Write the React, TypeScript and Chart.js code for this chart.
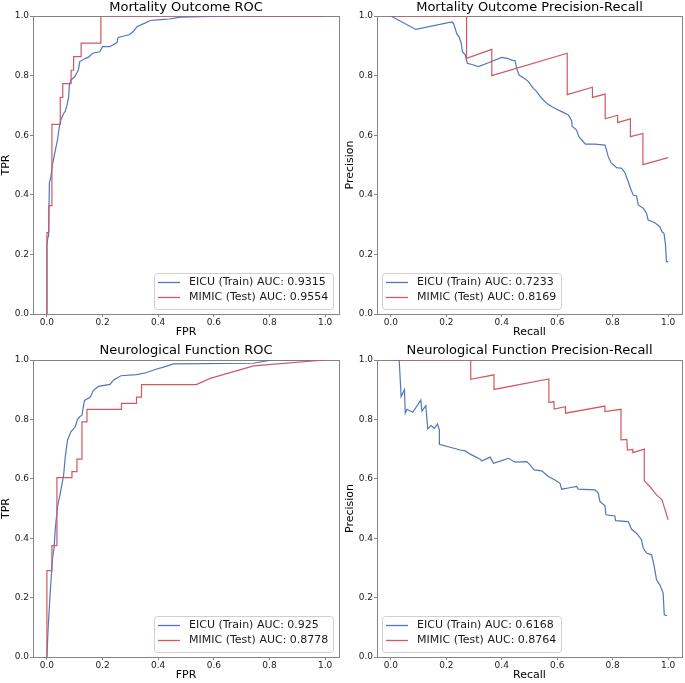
import React, { useEffect, useRef } from 'react';
import { Chart, registerables } from 'chart.js';

Chart.register(...registerables);

const FONT = "'DejaVu Sans', 'Liberation Sans', sans-serif";
const BLUE = '#5275bf';
const RED = '#cf5a5f';
const SPINE = '#858585';
const TEXT = '#1a1a1a';

const TICKS = [0, 0.2, 0.4, 0.6, 0.8, 1.0];
const SERIES_NAMES = ['EICU (Train)', 'MIMIC (Test)'];

// ---------- Mortality Outcome ROC ----------
const mortRocEicuFpr = [0, 0, 0.004, 0.006, 0.009, 0.014, 0.02, 0.026, 0.038, 0.045, 0.05, 0.06, 0.066, 0.072, 0.078, 0.081, 0.086, 0.1, 0.113, 0.118, 0.139, 0.15, 0.164, 0.19, 0.2, 0.226, 0.252, 0.256, 0.296, 0.31, 0.325, 0.352, 0.372, 0.41, 0.44, 0.48, 0.55, 0.68, 1.0];
const mortRocEicuTpr = [0, 0.23, 0.26, 0.28, 0.44, 0.46, 0.5, 0.53, 0.584, 0.63, 0.651, 0.673, 0.68, 0.7, 0.727, 0.77, 0.785, 0.796, 0.819, 0.847, 0.858, 0.862, 0.875, 0.88, 0.897, 0.897, 0.911, 0.928, 0.937, 0.948, 0.965, 0.976, 0.985, 0.988, 0.99, 0.996, 0.998, 1.0, 1.0];
const mortRocMimicFpr = [0, 0, 0.007, 0.007, 0.018, 0.018, 0.048, 0.048, 0.057, 0.057, 0.087, 0.087, 0.096, 0.096, 0.123, 0.123, 0.194, 0.194, 1.0];
const mortRocMimicTpr = [0, 0.273, 0.273, 0.364, 0.364, 0.636, 0.636, 0.727, 0.727, 0.773, 0.773, 0.818, 0.818, 0.864, 0.864, 0.909, 0.909, 1.0, 1.0];
const mortRocAuc = ['0.9315', '0.9554'];

// ---------- Mortality Outcome Precision-Recall ----------
const mortPrEicuRecall = [0, 0.09, 0.22, 0.226, 0.238, 0.246, 0.254, 0.258, 0.268, 0.276, 0.286, 0.316, 0.352, 0.4, 0.42, 0.436, 0.448, 0.454, 0.462, 0.481, 0.496, 0.514, 0.526, 0.544, 0.562, 0.58, 0.598, 0.616, 0.64, 0.652, 0.654, 0.67, 0.678, 0.694, 0.702, 0.736, 0.772, 0.778, 0.784, 0.794, 0.814, 0.832, 0.844, 0.856, 0.866, 0.874, 0.886, 0.892, 0.91, 0.922, 0.928, 0.952, 0.97, 0.978, 0.985, 0.99, 0.994, 1.0];
const mortPrEicuPrecision = [1.0, 0.955, 0.98, 0.975, 0.94, 0.93, 0.908, 0.88, 0.87, 0.841, 0.839, 0.83, 0.843, 0.861, 0.858, 0.852, 0.85, 0.824, 0.802, 0.791, 0.78, 0.757, 0.746, 0.724, 0.707, 0.696, 0.687, 0.679, 0.668, 0.649, 0.629, 0.617, 0.595, 0.578, 0.57, 0.57, 0.567, 0.55, 0.528, 0.508, 0.491, 0.489, 0.475, 0.444, 0.418, 0.399, 0.396, 0.366, 0.355, 0.338, 0.315, 0.306, 0.293, 0.276, 0.271, 0.237, 0.176, 0.176];
const mortPrMimicRecall = [0, 0.273, 0.273, 0.364, 0.364, 0.636, 0.636, 0.727, 0.727, 0.773, 0.773, 0.818, 0.818, 0.864, 0.864, 0.909, 0.909, 1.0];
const mortPrMimicPrecision = [1.0, 1.0, 0.858, 0.888, 0.8, 0.875, 0.736, 0.761, 0.727, 0.738, 0.655, 0.667, 0.642, 0.655, 0.595, 0.606, 0.501, 0.525];
const mortPrAuc = ['0.7233', '0.8169'];

// ---------- Neurological Function ROC ----------
const neuroRocEicuFpr = [0, 0.004, 0.012, 0.02, 0.026, 0.03, 0.038, 0.048, 0.06, 0.066, 0.074, 0.086, 0.102, 0.11, 0.117, 0.126, 0.135, 0.156, 0.167, 0.185, 0.227, 0.239, 0.266, 0.323, 0.359, 0.389, 0.419, 0.455, 0.742, 0.808, 1.0];
const neuroRocEicuTpr = [0, 0.09, 0.22, 0.33, 0.37, 0.43, 0.506, 0.551, 0.612, 0.674, 0.73, 0.758, 0.775, 0.8, 0.808, 0.814, 0.864, 0.875, 0.898, 0.911, 0.918, 0.932, 0.947, 0.951, 0.958, 0.968, 0.976, 0.987, 0.989, 1.0, 1.0];
const neuroRocMimicFpr = [0, 0, 0.018, 0.018, 0.036, 0.036, 0.09, 0.09, 0.108, 0.108, 0.126, 0.126, 0.144, 0.144, 0.268, 0.268, 0.322, 0.322, 0.34, 0.34, 0.537, 0.587, 0.743, 1.0];
const neuroRocMimicTpr = [0, 0.291, 0.291, 0.375, 0.375, 0.604, 0.604, 0.624, 0.624, 0.666, 0.666, 0.792, 0.792, 0.834, 0.834, 0.854, 0.854, 0.875, 0.875, 0.917, 0.917, 0.938, 0.98, 1.0];
const neuroRocAuc = ['0.925', '0.8778'];

// ---------- Neurological Function Precision-Recall ----------
const neuroPrEicuRecall = [0, 0.03, 0.037, 0.049, 0.052, 0.058, 0.079, 0.108, 0.112, 0.126, 0.133, 0.145, 0.157, 0.168, 0.175, 0.175, 0.25, 0.268, 0.286, 0.322, 0.328, 0.358, 0.37, 0.4, 0.424, 0.448, 0.49, 0.502, 0.517, 0.544, 0.568, 0.592, 0.61, 0.616, 0.64, 0.67, 0.676, 0.736, 0.748, 0.754, 0.772, 0.776, 0.808, 0.81, 0.856, 0.868, 0.886, 0.904, 0.91, 0.922, 0.94, 0.946, 0.954, 0.958, 0.97, 0.982, 0.986, 0.996];
const neuroPrEicuPrecision = [1.0, 1.0, 0.877, 0.9, 0.821, 0.834, 0.824, 0.865, 0.828, 0.846, 0.768, 0.779, 0.77, 0.784, 0.765, 0.716, 0.697, 0.694, 0.683, 0.666, 0.66, 0.673, 0.652, 0.661, 0.669, 0.656, 0.658, 0.647, 0.63, 0.627, 0.608, 0.596, 0.585, 0.565, 0.569, 0.574, 0.565, 0.563, 0.552, 0.524, 0.509, 0.479, 0.475, 0.459, 0.456, 0.43, 0.417, 0.395, 0.367, 0.35, 0.344, 0.322, 0.283, 0.26, 0.243, 0.215, 0.142, 0.139];
const neuroPrMimicRecall = [0, 0.288, 0.288, 0.372, 0.372, 0.57, 0.57, 0.588, 0.589, 0.629, 0.63, 0.772, 0.772, 0.83, 0.83, 0.851, 0.853, 0.872, 0.873, 0.914, 0.914, 0.934, 0.958, 0.978, 1.0];
const neuroPrMimicPrecision = [1.0, 1.0, 0.935, 0.95, 0.901, 0.936, 0.857, 0.86, 0.835, 0.843, 0.821, 0.845, 0.826, 0.834, 0.731, 0.733, 0.697, 0.699, 0.688, 0.7, 0.593, 0.574, 0.546, 0.529, 0.462];
const neuroPrAuc = ['0.6168', '0.8764'];

type Panel = {
  title: string;
  xLabel: string;
  yLabel: string;
  trainX: number[];
  trainY: number[];
  testX: number[];
  testY: number[];
  auc: string[];
  legendPos: 'lr' | 'll';
  left: number;
  top: number;
  width: number;
  height: number;
  yAxisWidth: number;
  titlePadTop: number;
  titlePadBottom: number;
  yTitlePad: number;
};

const PANELS: Panel[] = [
  {
    title: 'Mortality Outcome ROC', xLabel: 'FPR', yLabel: 'TPR',
    trainX: mortRocEicuFpr, trainY: mortRocEicuTpr, testX: mortRocMimicFpr, testY: mortRocMimicTpr,
    auc: mortRocAuc, legendPos: 'lr',
    left: 0, top: 0, width: 342, height: 340, yAxisWidth: 33, titlePadTop: 0, titlePadBottom: 0, yTitlePad: 0,
  },
  {
    title: 'Mortality Outcome Precision-Recall', xLabel: 'Recall', yLabel: 'Precision',
    trainX: mortPrEicuRecall, trainY: mortPrEicuPrecision, testX: mortPrMimicRecall, testY: mortPrMimicPrecision,
    auc: mortPrAuc, legendPos: 'll',
    left: 342, top: 0, width: 343, height: 340, yAxisWidth: 35, titlePadTop: 0, titlePadBottom: 0, yTitlePad: 2,
  },
  {
    title: 'Neurological Function ROC', xLabel: 'FPR', yLabel: 'TPR',
    trainX: neuroRocEicuFpr, trainY: neuroRocEicuTpr, testX: neuroRocMimicFpr, testY: neuroRocMimicTpr,
    auc: neuroRocAuc, legendPos: 'lr',
    left: 0, top: 340, width: 342, height: 343, yAxisWidth: 33, titlePadTop: 3, titlePadBottom: 1, yTitlePad: 0,
  },
  {
    title: 'Neurological Function Precision-Recall', xLabel: 'Recall', yLabel: 'Precision',
    trainX: neuroPrEicuRecall, trainY: neuroPrEicuPrecision, testX: neuroPrMimicRecall, testY: neuroPrMimicPrecision,
    auc: neuroPrAuc, legendPos: 'll',
    left: 342, top: 340, width: 343, height: 343, yAxisWidth: 35, titlePadTop: 3, titlePadBottom: 1, yTitlePad: 2,
  },
];

const zip = (xs: number[], ys: number[]) => xs.map((x, i) => ({ x, y: ys[i] }));

const framePlugin = {
  id: 'frame',
  beforeDatasetsDraw(chart: any) {
    const { ctx, chartArea: a } = chart;
    ctx.save();
    ctx.strokeStyle = SPINE;
    ctx.lineWidth = 1;
    ctx.strokeRect(Math.round(a.left) + 0.5, Math.round(a.top) + 0.5, Math.round(a.right - a.left), Math.round(a.bottom - a.top));
    ctx.restore();
  },
};

const boxLegendPlugin = {
  id: 'boxLegend',
  afterDraw(chart: any, _args: any, opts: any) {
    const { ctx, chartArea: a } = chart;
    ctx.save();
    ctx.font = `11px ${FONT}`;
    const items = chart.data.datasets.map((d: any) => ({ text: d.label, color: d.borderColor }));
    const tw = Math.max(...items.map((i: any) => ctx.measureText(i.text).width));
    const w = Math.round(4 + 22 + 9 + tw + 5);
    const h = 36;
    const x = opts.pos === 'lr' ? Math.round(a.right - 6 - w) : Math.round(a.left + 5);
    const y = Math.round(a.bottom - 5 - h);
    ctx.beginPath();
    (ctx as any).roundRect(x + 0.5, y + 0.5, w, h, 3);
    ctx.fillStyle = 'rgba(255,255,255,0.8)';
    ctx.fill();
    ctx.strokeStyle = '#d0d0d0';
    ctx.lineWidth = 1;
    ctx.stroke();
    items.forEach((it: any, i: number) => {
      const cy = y + 9.5 + i * 15;
      ctx.beginPath();
      ctx.moveTo(x + 4, cy);
      ctx.lineTo(x + 26, cy);
      ctx.strokeStyle = it.color;
      ctx.lineWidth = 1.3;
      ctx.stroke();
      ctx.fillStyle = TEXT;
      ctx.textBaseline = 'middle';
      ctx.textAlign = 'left';
      ctx.fillText(it.text, x + 35, cy);
    });
    ctx.restore();
  },
};

function makeConfig(p: Panel): any {
  const setTicks = (axis: any) => {
    axis.ticks = TICKS.map((v) => ({ value: v }));
  };
  const tickFont = { family: FONT, size: 9 };
  const titleFont = { family: FONT, size: 11 };
  return {
    type: 'line',
    data: {
      datasets: [
        {
          label: `${SERIES_NAMES[0]} AUC: ${p.auc[0]}`,
          data: zip(p.trainX, p.trainY),
          borderColor: BLUE,
          backgroundColor: BLUE,
          borderWidth: 1.2,
          pointRadius: 0,
          tension: 0,
          fill: false,
          order: 1,
        },
        {
          label: `${SERIES_NAMES[1]} AUC: ${p.auc[1]}`,
          data: zip(p.testX, p.testY),
          borderColor: RED,
          backgroundColor: RED,
          borderWidth: 1.2,
          pointRadius: 0,
          tension: 0,
          fill: false,
          order: 0,
        },
      ],
    },
    options: {
      responsive: false,
      animation: false,
      events: [],
      layout: { padding: { left: 0, right: 3, top: 0, bottom: 0 } },
      plugins: {
        legend: { display: false },
        tooltip: { enabled: false },
        title: {
          display: true,
          text: p.title,
          fullSize: false,
          color: '#000',
          font: { family: FONT, size: 13, weight: 'normal', lineHeight: '16px' },
          padding: { top: p.titlePadTop, bottom: p.titlePadBottom },
        },
        boxLegend: { pos: p.legendPos },
      },
      scales: {
        x: {
          type: 'linear',
          min: -0.05,
          max: 1.05,
          afterBuildTicks: setTicks,
          afterFit: (s: any) => { s.height = 26; },
          ticks: {
            font: tickFont,
            color: TEXT,
            padding: 0,
            autoSkip: false,
            maxRotation: 0,
            callback: (v: any) => Number(v).toFixed(1),
          },
          grid: { display: true, drawOnChartArea: false, drawTicks: true, tickLength: 3, tickColor: SPINE, tickWidth: 1 },
          border: { display: false },
          title: { display: true, text: p.xLabel, font: titleFont, color: '#000', padding: { top: 0, bottom: 1 } },
        },
        y: {
          type: 'linear',
          min: 0,
          max: 1,
          afterBuildTicks: setTicks,
          afterFit: (s: any) => { s.width = p.yAxisWidth; },
          ticks: {
            font: tickFont,
            color: TEXT,
            padding: 1,
            autoSkip: false,
            callback: (v: any) => Number(v).toFixed(1),
          },
          grid: { display: true, drawOnChartArea: false, drawTicks: true, tickLength: 3, tickColor: SPINE, tickWidth: 1 },
          border: { display: false },
          title: { display: true, text: p.yLabel, font: titleFont, color: '#000', padding: { top: p.yTitlePad, bottom: 0 } },
        },
      },
    },
    plugins: [framePlugin, boxLegendPlugin],
  };
}

function PanelChart({ p }: { p: Panel }) {
  const ref = useRef<HTMLCanvasElement | null>(null);
  useEffect(() => {
    if (!ref.current) return;
    const chart = new Chart(ref.current, makeConfig(p));
    return () => chart.destroy();
  }, [p]);
  return (
    <canvas
      ref={ref}
      width={p.width}
      height={p.height}
      style={{ position: 'absolute', left: p.left, top: p.top, width: p.width, height: p.height, display: 'block' }}
    />
  );
}

export default function App() {
  return (
    <div style={{ position: 'absolute', left: 0, top: 0, width: 685, height: 683, background: '#fff', overflow: 'hidden' }}>
      {PANELS.map((p, i) => (
        <PanelChart key={i} p={p} />
      ))}
    </div>
  );
}
